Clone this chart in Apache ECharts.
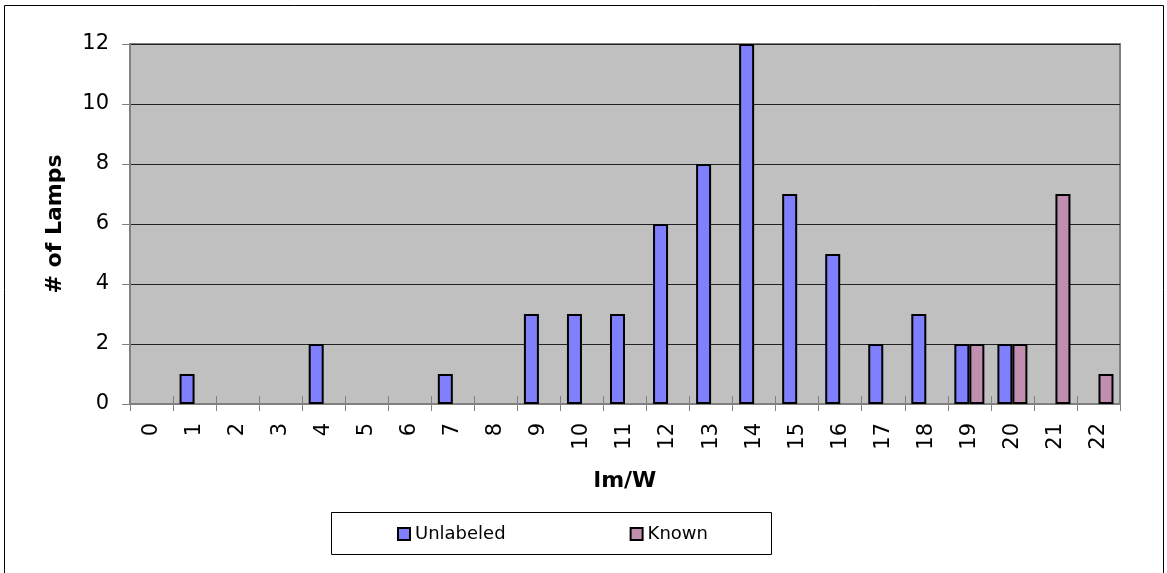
<!DOCTYPE html>
<html>
<head>
<meta charset="utf-8">
<script src="https://cdn.jsdelivr.net/npm/echarts@6/dist/echarts.min.js"></script>
<style>
html,body{margin:0;padding:0;background:#fff;}
#chart{width:1167px;height:573px;}
</style>
</head>
<body>
<div id="chart"></div>
<script>
const categories = ['0','1','2','3','4','5','6','7','8','9','10','11','12','13','14','15','16','17','18','19','20','21','22'];
const unlabeled = [0,1,0,0,2,0,0,1,0,3,3,3,6,8,12,7,5,2,3,2,2,0,0];
const known     = [0,0,0,0,0,0,0,0,0,0,0,0,0,0,0,0,0,0,0,2,2,7,1];
const yTicks = [0,2,4,6,8,10,12];

const FONT = 'DejaVu Sans';
const chart = echarts.init(document.getElementById('chart'), null, {renderer:'canvas'});
const hideZero = arr => arr.map(v => v === 0 ? '-' : v);

chart.setOption({
  animation: false,
  backgroundColor: '#ffffff',
  textStyle: {fontFamily: FONT, color: '#000'},
  grid: {
    left: 130, top: 44, right: 47, bottom: 169,
    show: true, backgroundColor: '#C0C0C0', borderColor: '#808080', borderWidth: 2
  },
  legend: {
    data: ['Unlabeled','Known'],
    left: 397, top: 525, padding: 0,
    itemGap: 124, itemWidth: 12, itemHeight: 12,
    icon: 'rect',
    textStyle: {fontFamily: FONT, fontSize: 18, color: '#000'}
  },
  xAxis: [{
    type: 'category', data: categories,
    boundaryGap: true,
    name: 'lm/W', nameLocation: 'middle', nameGap: 66,
    nameTextStyle: {fontFamily: FONT, fontSize: 22, fontWeight: 'bold', color: '#000'},
    axisLine: {lineStyle: {color: '#808080', width: 2}},
    axisTick: {show: true, length: 7, inside: false, lineStyle: {color: '#808080', width: 1}},
    axisLabel: {interval: 0, rotate: 90, margin: 19, fontFamily: FONT, fontSize: 21, color: '#000'},
    splitLine: {show: false}
  },{
    type: 'category', data: categories, position: 'bottom',
    axisLine: {show: false},
    axisTick: {show: true, length: 8, inside: true, lineStyle: {color: '#808080', width: 1}},
    axisLabel: {show: false},
    splitLine: {show: false}
  }],
  yAxis: {
    type: 'value', min: yTicks[0], max: yTicks[yTicks.length-1], interval: 2,
    name: '# of Lamps', nameLocation: 'middle', nameGap: 64, nameRotate: 90,
    nameTextStyle: {fontFamily: FONT, fontSize: 22, fontWeight: 'bold', color: '#000'},
    axisLine: {show: true, lineStyle: {color: '#808080', width: 2}},
    axisTick: {show: true, length: 8, lineStyle: {color: '#808080', width: 1}},
    axisLabel: {margin: 21, fontFamily: FONT, fontSize: 21, color: '#000'},
    splitLine: {show: true, lineStyle: {color: '#222', width: 1}}
  },
  series: [{
    name: 'Unlabeled', type: 'bar', data: hideZero(unlabeled),
    barWidth: 15, barGap: '0%',
    itemStyle: {color: '#8080FF', borderColor: '#000', borderWidth: 2}
  },{
    name: 'Known', type: 'bar', data: hideZero(known),
    barWidth: 15, barGap: '0%',
    itemStyle: {color: '#C08FB0', borderColor: '#000', borderWidth: 2}
  }],
  graphic: [{
    type: 'rect', shape: {x: 4.5, y: 5.5, width: 1159, height: 580},
    style: {fill: null, stroke: '#000', lineWidth: 1}, silent: true
  },{
    type: 'rect', shape: {x: 331.5, y: 512.5, width: 440, height: 42},
    style: {fill: null, stroke: '#000', lineWidth: 1}, silent: true, z: -1
  }]
});
</script>
</body>
</html>
